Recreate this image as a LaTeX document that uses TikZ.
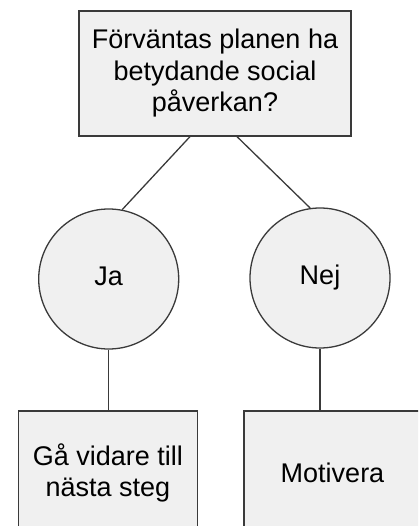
\documentclass[tikz,border=0pt]{standalone}
\usepackage{fontspec}
\setmainfont{Liberation Sans}
\usetikzlibrary{calc}
\definecolor{boxfill}{HTML}{F0F0F0}
\definecolor{edge}{HTML}{3A3A3A}
\tikzset{
  box/.style={draw=edge, line width=1.6pt, fill=boxfill, align=center, inner sep=0pt,
    font=\fontsize{27}{31.5}\selectfont},
  answer/.style={circle, draw=edge, line width=1.3pt, fill=boxfill, inner sep=0pt,
    minimum size=140pt, text height=19pt, text depth=6pt,
    font=\fontsize{27}{31.5}\selectfont},
  link/.style={draw=edge, line width=1.3pt}
}
\begin{document}
\begin{tikzpicture}[x=1pt,y=-1pt]
\useasboundingbox (0,0) rectangle (418,526);
\clip (0,0) rectangle (418,526);
\node[box, minimum width=272pt, minimum height=125pt] (q) at (215,73.5)
  {Förväntas planen ha\\betydande social\\påverkan?};
\node[answer] (ja) at (108.7,279) {Ja};
\node[answer] (nej) at (320,278) {Nej};
\node[box, minimum width=179pt, minimum height=124pt] (go) at (107.8,473)
  {Gå vidare till\\nästa steg};
\node[box, minimum width=177pt, minimum height=124pt] (mot) at (332.5,473)
  {Motivera};
\draw[link] ($(q.south west)!0.408!(q.south east)$) -- (ja.79);
\draw[link] ($(q.south west)!0.581!(q.south east)$) -- (nej.98);
\draw[link] (ja.south) -- (ja.south |- go.north);
\draw[link] (nej.south) -- (nej.south |- mot.north);
\end{tikzpicture}
\end{document}
